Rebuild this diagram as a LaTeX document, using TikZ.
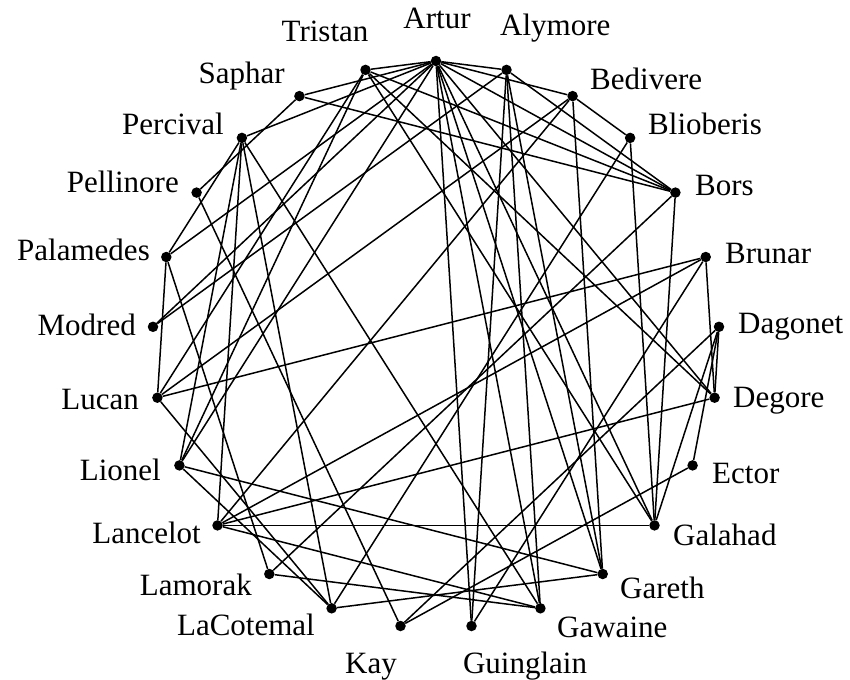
\documentclass[tikz,border=0pt]{standalone}
\usepackage{fontspec}
\setmainfont{Liberation Serif}
\begin{document}
\begin{tikzpicture}[x=1pt,y=-1pt,
  knight/.style={circle,fill=black,inner sep=0pt,minimum size=10.5pt},
  lbl/.style={inner sep=0pt,font=\fontsize{31}{37}\selectfont},
  tie/.style={line width=1.5pt,black}]
\useasboundingbox (0,0) rectangle (850,679);
% knights on the circle
\node[knight] (Artur) at (436.0,61.0) {};
\node[knight] (Alymore) at (506.5,69.9) {};
\node[knight] (Bedivere) at (572.6,96.1) {};
\node[knight] (Blioberis) at (630.1,137.9) {};
\node[knight] (Bors) at (675.4,192.6) {};
\node[knight] (Brunar) at (705.7,257.0) {};
\node[knight] (Dagonet) at (719.0,326.8) {};
\node[knight] (Degore) at (714.6,397.7) {};
\node[knight] (Ector) at (692.6,465.4) {};
\node[knight] (Galahad) at (654.5,525.4) {};
\node[knight] (Gareth) at (602.7,574.0) {};
\node[knight] (Gawaine) at (540.4,608.3) {};
\node[knight] (Guinglain) at (471.5,626.0) {};
\node[knight] (Kay) at (400.5,626.0) {};
\node[knight] (LaCotemal) at (331.6,608.3) {};
\node[knight] (Lamorak) at (269.3,574.0) {};
\node[knight] (Lancelot) at (217.5,525.4) {};
\node[knight] (Lionel) at (179.4,465.4) {};
\node[knight] (Lucan) at (157.4,397.7) {};
\node[knight] (Modred) at (153.0,326.8) {};
\node[knight] (Palamedes) at (166.3,257.0) {};
\node[knight] (Pellinore) at (196.6,192.6) {};
\node[knight] (Percival) at (241.9,137.9) {};
\node[knight] (Saphar) at (299.4,96.1) {};
\node[knight] (Tristan) at (365.5,69.9) {};
% names
\node[lbl,anchor=base] (tArtur) at (437,29) {Artur};
\node[lbl,anchor=base west] (tAlymore) at (500,36) {Alymore};
\node[lbl,anchor=base] (tTristan) at (325,42) {Tristan};
\node[lbl,anchor=base west] (tBedivere) at (590,90) {Bedivere};
\node[lbl,anchor=base east] (tSaphar) at (285,84) {Saphar};
\node[lbl,anchor=base west] (tBlioberis) at (648,135) {Blioberis};
\node[lbl,anchor=base east] (tPercival) at (224,135) {Percival};
\node[lbl,anchor=base west] (tBors) at (695,195) {Bors};
\node[lbl,anchor=base east] (tPellinore) at (179,192) {Pellinore};
\node[lbl,anchor=base west] (tBrunar) at (725,263) {Brunar};
\node[lbl,anchor=base east] (tPalamedes) at (150,260) {Palamedes};
\node[lbl,anchor=base west] (tDagonet) at (738,333) {Dagonet};
\node[lbl,anchor=base east] (tModred) at (136,335) {Modred};
\node[lbl,anchor=base west] (tDegore) at (733,407) {Degore};
\node[lbl,anchor=base east] (tLucan) at (139,409) {Lucan};
\node[lbl,anchor=base west] (tEctor) at (712,483) {Ector};
\node[lbl,anchor=base east] (tLionel) at (161,480) {Lionel};
\node[lbl,anchor=base west] (tGalahad) at (673,545) {Galahad};
\node[lbl,anchor=base east] (tLancelot) at (201,543) {Lancelot};
\node[lbl,anchor=base west] (tGareth) at (620,598) {Gareth};
\node[lbl,anchor=base east] (tLamorak) at (252,595) {Lamorak};
\node[lbl,anchor=base west] (tGawaine) at (557,637) {Gawaine};
\node[lbl,anchor=base east] (tLaCotemal) at (315,635) {LaCotemal};
\node[lbl,anchor=base] (tKay) at (371,673) {Kay};
\node[lbl,anchor=base] (tGuinglain) at (525,673) {Guinglain};
% ties
\begin{scope}[tie]
\draw (Artur) -- (Tristan);
\draw (Artur) -- (Alymore);
\draw (Artur) -- (Saphar);
\draw (Artur) -- (Percival);
\draw (Artur) -- (Palamedes);
\draw (Artur) -- (Modred);
\draw (Artur) -- (Bedivere);
\draw (Artur) -- (Bors);
\draw (Artur) -- (Degore);
\draw (Artur) -- (Galahad);
\draw (Artur) -- (Gareth);
\draw (Artur) -- (Gawaine);
\draw (Artur) -- (Guinglain);
\draw (Artur) -- (Lionel);
\draw (Tristan) -- (Bors);
\draw (Tristan) -- (Galahad);
\draw (Tristan) -- (Degore);
\draw (Tristan) -- (Lucan);
\draw (Tristan) -- (Lionel);
\draw (Alymore) -- (Bors);
\draw (Alymore) -- (Guinglain);
\draw (Alymore) -- (Gawaine);
\draw (Alymore) -- (Gareth);
\draw (Alymore) -- (Modred);
\draw (Bedivere) -- (Blioberis);
\draw (Bedivere) -- (Gareth);
\draw (Bedivere) -- (Lancelot);
\draw (Bedivere) -- (Lucan);
\draw (Blioberis) -- (LaCotemal);
\draw (Blioberis) -- (Galahad);
\draw (Saphar) -- (Bors);
\draw (Saphar) -- (Pellinore);
\draw (Bors) -- (Galahad);
\draw (Bors) -- (Lamorak);
\draw (Brunar) -- (Lucan);
\draw (Brunar) -- (Lancelot);
\draw (Brunar) -- (Guinglain);
\draw (Brunar) -- (Degore);
\draw (Dagonet) -- (Kay);
\draw (Dagonet) -- (Ector);
\draw (Dagonet) -- (Galahad);
\draw (Dagonet) -- (Degore);
\draw (Degore) -- (Lancelot);
\draw (Ector) -- (Kay);
\draw (Galahad) -- (Lancelot);
\draw (Gareth) -- (Lionel);
\draw (Gareth) -- (LaCotemal);
\draw (Gawaine) -- (Percival);
\draw (Gawaine) -- (Lancelot);
\draw (Gawaine) -- (Lamorak);
\draw (Kay) -- (Pellinore);
\draw (LaCotemal) -- (Percival);
\draw (LaCotemal) -- (Lionel);
\draw (LaCotemal) -- (Lucan);
\draw (Lamorak) -- (Palamedes);
\draw (Lancelot) -- (Percival);
\draw (Lionel) -- (Percival);
\draw (Palamedes) -- (Percival);
\draw (Palamedes) -- (Lucan);
\end{scope}
\end{tikzpicture}
\end{document}
